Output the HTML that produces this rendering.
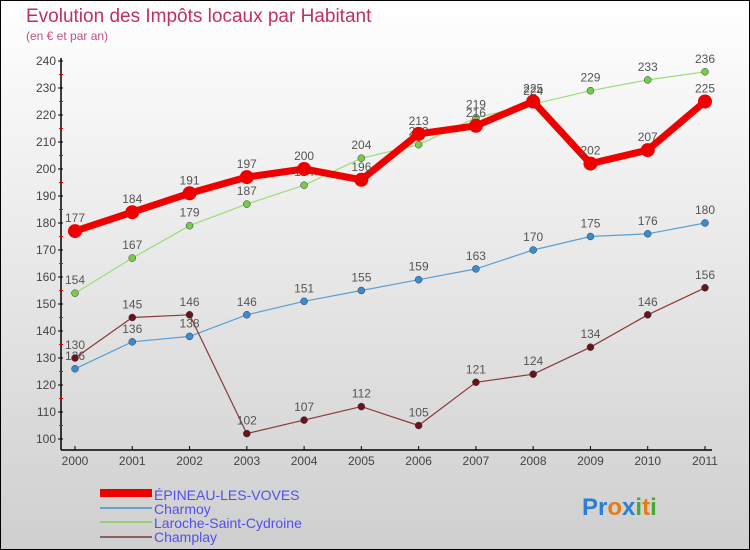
<!DOCTYPE html>
<html><head><meta charset="utf-8"><style>
body{margin:0}
svg{display:block;font-family:"Liberation Sans",sans-serif}
</style></head><body>
<svg id="c" width="750" height="550">
<defs><linearGradient id="bg" x1="0" y1="0" x2="0" y2="1"><stop offset="0" stop-color="#ffffff"/><stop offset="1" stop-color="#cfcfcf"/></linearGradient></defs>
<rect x="0.5" y="0.5" width="749" height="549" fill="url(#bg)" stroke="#000"/>
<text x="26" y="22" font-size="19" fill="#c0305f">Evolution des Impôts locaux par Habitant</text>
<text x="26" y="40" font-size="12" fill="#c0508a">(en € et par an)</text>
<g id="axes"></g><g id="series"></g>
<g>
<rect x="100" y="489" width="52" height="8" fill="#ee0000"/>
<text x="154" y="500" font-size="14" fill="#5050ee">ÉPINEAU-LES-VOVES</text>
<rect x="100" y="507" width="52" height="2" fill="#6aa0cc"/>
<text x="154" y="514" font-size="14" fill="#5050ee">Charmoy</text>
<rect x="100" y="521" width="52" height="2" fill="#99cc77"/>
<text x="154" y="528" font-size="14" fill="#5050ee">Laroche-Saint-Cydroine</text>
<rect x="100" y="536" width="52" height="2" fill="#8a6060"/>
<text x="154" y="542" font-size="14" fill="#5050ee">Champlay</text>
</g>
<text x="582" y="515" font-size="24" font-weight="bold"><tspan fill="#2a7fd4">Pr</tspan><tspan fill="#e87a10">o</tspan><tspan fill="#2a7fd4">x</tspan><tspan fill="#44aa33">i</tspan><tspan fill="#e87a10">t</tspan><tspan fill="#44aa33">i</tspan></text>
</svg>
<script>
const years=[2000,2001,2002,2003,2004,2005,2006,2007,2008,2009,2010,2011];
const yTicks=[100,110,120,130,140,150,160,170,180,190,200,210,220,230,240];
const epineau=[177,184,191,197,200,196,213,216,225,202,207,225];
const charmoy=[126,136,138,146,151,155,159,163,170,175,176,180];
const laroche=[154,167,179,187,194,204,209,219,224,229,233,236];
const champlay=[130,145,146,102,107,112,105,121,124,134,146,156];
const NS='http://www.w3.org/2000/svg';
const X=i=>75+i*(630/11);
const Y=v=>439-(v-100)*2.7;
function mk(t,a,p){const e=document.createElementNS(NS,t);for(const k in a)e.setAttribute(k,a[k]);p.appendChild(e);return e;}
const ax=document.getElementById('axes');
let e=mk('line',{x1:61,y1:58,x2:61,y2:450,stroke:'#000','stroke-width':1.5},ax);


e=mk('line',{x1:61,y1:450,x2:712,y2:450,stroke:'#000','stroke-width':1.5},ax);


yTicks.forEach((v,i)=>{
 mk('line',{x1:58,x2:63,y1:Y(v),y2:Y(v),stroke:'#000'},ax);
 if(i<yTicks.length-1)mk('line',{x1:59,x2:63,y1:Y(v+5),y2:Y(v+5),stroke:'#e00'},ax);
 const t=mk('text',{x:56,y:Y(v)+4,'font-size':12,'text-anchor':'end',fill:'#444'},ax);
 t.textContent=v;
 
 
});
years.forEach((y,i)=>{
 mk('line',{x1:X(i),x2:X(i),y1:446,y2:450,stroke:'#000'},ax);
 const t=mk('text',{x:X(i),y:465,'font-size':12,'text-anchor':'middle',fill:'#444'},ax);
 t.textContent=y;
 
 
});
const sg=document.getElementById('series');
function series(d,name,col,w,r,fill){
 const g=mk('g',{},sg);
 
 
 const p=mk('polyline',{points:d.map((v,i)=>X(i)+','+Y(v)).join(' '),fill:'none',stroke:col,'stroke-width':w,'stroke-linejoin':'round'},g);
 
 
 d.forEach((v,i)=>{
  const c=mk('circle',{cx:X(i),cy:Y(v),r:r,fill:fill,stroke:w>3?'none':'#335','stroke-width':0.5},g);
  
  
  const t=mk('text',{x:X(i),y:Y(v)-9,'font-size':12,'text-anchor':'middle',fill:'#555'},g);
  t.textContent=v;
  
  
 });
}
series(charmoy,'charmoy','#5a9fd4',1.2,3.5,'#3a8ccc');
series(laroche,'laroche','#99dd77',1.2,3.5,'#77cc44');
series(champlay,'champlay','#8a3a3a',1.2,3.5,'#6a1515');
series(epineau,'epineau','#ee0000',7,7,'#ee0000');
</script>
</body></html>
